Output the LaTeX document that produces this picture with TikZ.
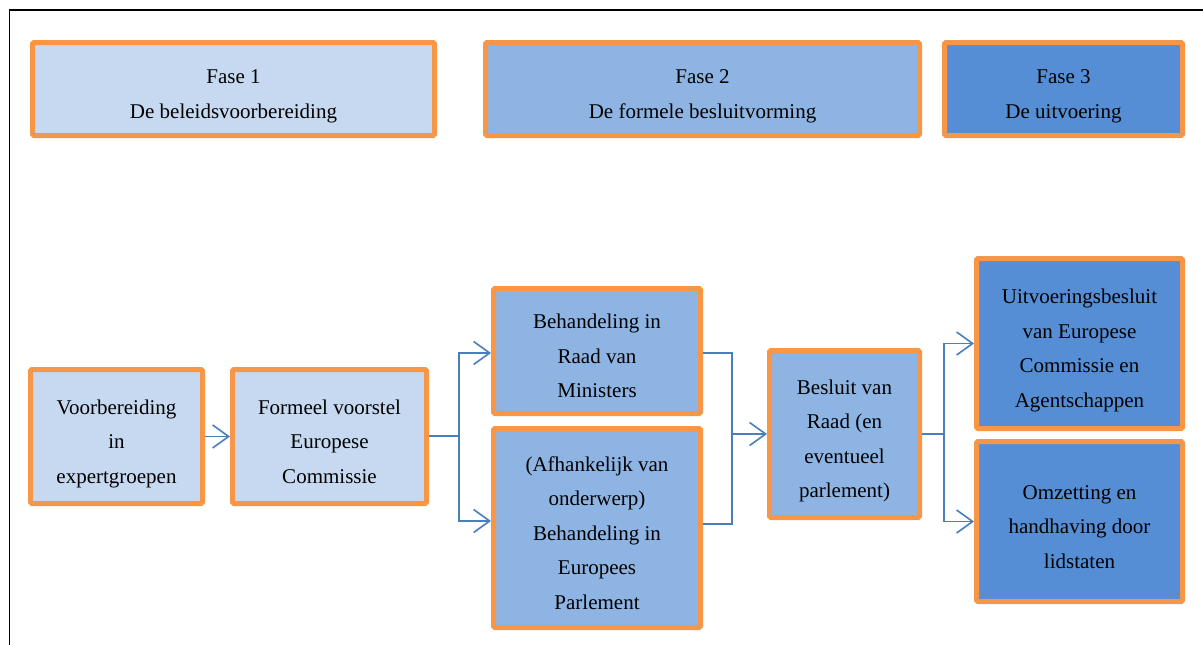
\documentclass[tikz,border=0pt]{standalone}
\usepackage{fontspec}
\setmainfont{Liberation Serif}
\usetikzlibrary{arrows.meta}
\definecolor{lightb}{HTML}{C6D9F1}
\definecolor{midb}{HTML}{8EB4E3}
\definecolor{darkb}{HTML}{558ED5}
\definecolor{orangeb}{HTML}{F79646}
\definecolor{lineb}{HTML}{4A7EBB}
\newcommand{\myTop}{\rule{0pt}{29pt}}
\newcommand{\myBot}{\rule[-5pt]{0pt}{5pt}}
\begin{document}
\begin{tikzpicture}[x=1pt,y=-1pt,
  box/.style={draw=orangeb, line width=5pt, rounded corners=1.5pt, align=center,
    inner sep=0pt, text=black, font=\fontsize{21}{34.5}\selectfont},
  conn/.style={draw=lineb, line width=1.6pt},
  arr/.style={conn, -{Straight Barb[length=16pt,width=23pt]}}]
\useasboundingbox (0,0) rectangle (1203,645);
\draw[line width=1.6pt] (9.3,645) -- (9.3,10) -- (1203,10);

% phases
\node[box, fill=lightb, minimum width=402pt, minimum height=93pt] (f1) at (233.5,89)
  {\myTop Fase 1\\De beleidsvoorbereiding\myBot};
\node[box, fill=midb, minimum width=434pt, minimum height=93pt] (f2) at (702.5,89)
  {\myTop Fase 2\\De formele besluitvorming\myBot};
\node[box, fill=darkb, minimum width=238pt, minimum height=93pt] (f3) at (1063.5,89)
  {\myTop Fase 3\\De uitvoering\myBot};

% process
\node[box, fill=lightb, minimum width=172pt, minimum height=134pt] (b1) at (116.5,436.5)
  {\myTop Voorbereiding\\in\\expertgroepen\myBot};
\node[box, fill=lightb, minimum width=194pt, minimum height=134pt] (b2) at (329.5,436.5)
  {\myTop Formeel voorstel\\Europese\\Commissie\myBot};
\node[box, fill=midb, minimum width=207pt, minimum height=125pt] (b3) at (597,351)
  {\myTop Behandeling in\\Raad van\\Ministers\myBot};
\node[box, fill=midb, minimum width=207pt, minimum height=199pt] (b4) at (597,528)
  {\myTop (Afhankelijk van\\onderwerp)\\Behandeling in\\Europees\\Parlement\myBot};
\node[box, fill=midb, minimum width=150pt, minimum height=167pt] (b5) at (844.5,434)
  {\myTop Besluit van\\Raad (en\\eventueel\\parlement)\myBot};
\node[box, fill=darkb, minimum width=206pt, minimum height=170pt] (b6) at (1079.5,343.5)
  {\myTop Uitvoeringsbesluit\\van Europese\\Commissie en\\Agentschappen\myBot};
\node[box, fill=darkb, minimum width=206pt, minimum height=160pt] (b7) at (1079.5,521.5)
  {\myTop Omzetting en\\handhaving door\\lidstaten\myBot};

% connectors
\coordinate (s1) at (459,436);
\coordinate (m1) at (732,434);
\coordinate (s2) at (944,434);

\draw[arr] (b1) -- (b2);
\draw[conn] (b2.east |- s1) -- (s1);
\draw[arr] (s1) |- ([yshift=-2pt]b3.west);
\draw[arr] (s1) |- ([yshift=7pt]b4.west);
\draw[conn] ([yshift=-2pt]b3.east) -| (m1) |- ([yshift=4pt]b4.east);
\draw[arr] (m1) -- (b5.west);
\draw[conn] (b5.east) -- (s2);
\draw[arr] (s2) |- (b6.west);
\draw[arr] (s2) |- (b7.west);
\end{tikzpicture}
\end{document}
